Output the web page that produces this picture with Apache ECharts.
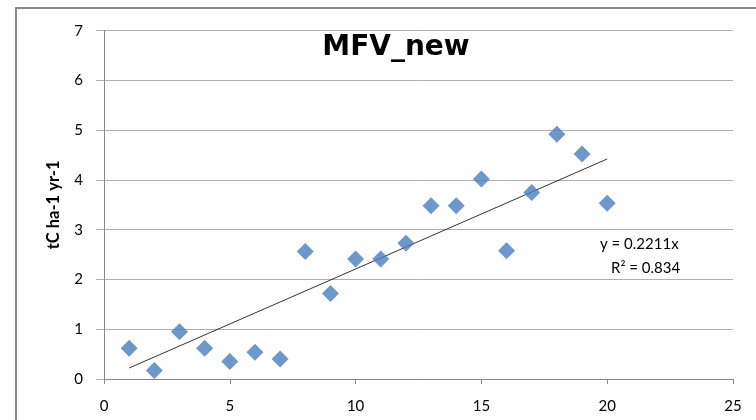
<!DOCTYPE html>
<html><head><meta charset="utf-8">
<script src="https://cdn.jsdelivr.net/npm/echarts@6/dist/echarts.min.js"></script>
<style>html,body{margin:0;padding:0;background:#fff}#c{width:756px;height:420px}</style>
</head><body><div id="c"></div>
<script>
const xValues = [1,2,3,4,5,6,7,8,9,10,11,12,13,14,15,16,17,18,19,20];
const yValues = [0.62,0.17,0.95,0.62,0.35,0.54,0.40,2.56,1.72,2.41,2.41,2.73,3.48,3.48,4.02,2.58,3.75,4.92,4.52,3.53];
const trendSlope = 0.2211;
const rSquared = 0.834;
const titleText = 'MFV_new';
const yAxisName = 'tC ha-1 yr-1';

const points = xValues.map((x,i)=>[x,yValues[i]]);
const xMin = Math.min(...xValues), xMax = Math.max(...xValues);
const trend = [[xMin, trendSlope*xMin],[xMax, trendSlope*xMax]];
const FONT = 'Lato';

const chart = echarts.init(document.getElementById('c'));
chart.setOption({
  animation:false,
  backgroundColor:'#fff',
  textStyle:{fontFamily:FONT},
  title:{text:titleText,left:391,top:29,textAlign:'center',
    textStyle:{fontFamily:'DejaVu Sans',fontSize:28,fontWeight:'bold',color:'#000'}},
  grid:{left:104,top:30.7,right:23,bottom:41},
  xAxis:{type:'value',min:0,max:25,interval:5,
    axisLine:{show:true,lineStyle:{color:'#888',width:1}},
    axisTick:{show:true,length:5,lineStyle:{color:'#888'}},
    splitLine:{show:false},
    axisLabel:{color:'#000',fontSize:15,margin:20,fontFamily:FONT}},
  yAxis:{type:'value',min:0,max:7,interval:1,
    name:yAxisName,nameLocation:'middle',nameGap:42,nameRotate:90,
    nameTextStyle:{color:'#000',fontSize:16.5,fontWeight:'bold',fontFamily:FONT},
    axisLine:{show:true,lineStyle:{color:'#888',width:1}},
    axisTick:{show:true,length:8,lineStyle:{color:'#b0b0b0'}},
    splitLine:{show:true,lineStyle:{color:'#b0b0b0',width:1}},
    axisLabel:{color:'#000',fontSize:15,margin:21,fontFamily:FONT}},
  series:[
    {type:'scatter',data:points,symbol:'diamond',symbolSize:17,
      itemStyle:{color:'#4A7EBB'},z:3},
    {type:'line',data:trend,symbol:'none',lineStyle:{color:'#333',width:1},z:2}
  ],
  graphic:[
    {type:'rect',shape:{x:16,y:8,width:760,height:430},
      style:{fill:'none',stroke:'#8c8c8c',lineWidth:2},silent:true},
    {type:'text',left:600,top:237,style:{text:'y = '+trendSlope+'x',fontSize:15,fontFamily:FONT,fill:'#000'}},
    {type:'text',left:611,top:261,style:{text:'R\u00b2 = '+rSquared,fontSize:15,fontFamily:FONT,fill:'#000'}}
  ]
});
</script></body></html>
